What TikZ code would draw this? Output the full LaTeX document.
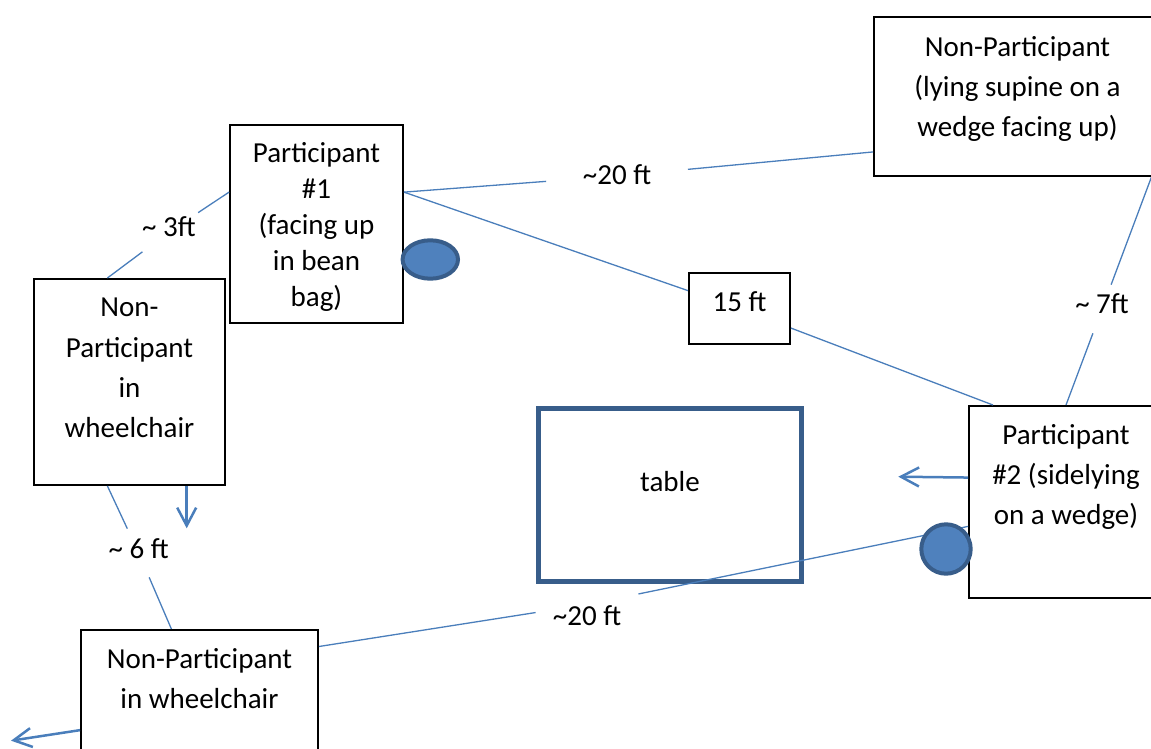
\documentclass[tikz,border=0pt]{standalone}
\usepackage{fontspec}
\setmainfont{Carlito}
\usetikzlibrary{shapes,shapes.geometric,arrows.meta}
\definecolor{linkblue}{HTML}{4A7EBB}
\definecolor{devfill}{HTML}{4F81BD}
\definecolor{devedge}{HTML}{385D8A}
\tikzset{
  box_n/.style = {draw=black, line width=0.04cm, inner sep=0pt, anchor=north, align=center, font=\fontsize{16.5}{23}\selectfont},
  box_t/.style = {box_n, draw=devedge, line width=0.09cm},
  dist/.style = {inner xsep=0.04cm, inner ysep=0.18cm, text height=0.4cm, text depth=0.2cm, font=\fontsize{16.5}{23}\selectfont},
  link/.style = {draw=linkblue, line width=0.026cm},
  move/.style = {draw=linkblue, line width=0.05cm, -{Straight Barb[length=0.36cm,width=0.38cm]}},
  dev/.style = {draw=devedge, fill=devfill, line width=0.08cm, inner sep=0pt}
}
\begin{document}
\begin{tikzpicture}[x=0.02cm, y=-0.02cm]
	\useasboundingbox (0,0) rectangle (1151,749);
	\clip (0,0) rectangle (1151,749);

	\node [box_n, minimum width=3.46cm, text height=3.64cm, text depth=0.32cm, font=\fontsize{16.5}{20.5}\selectfont] (part_a) at (316.5,124) {Participant\\\#1\\(facing up\\in bean\\bag)};
	\node [box_n, minimum width=3.82cm, text height=3.18cm, text depth=0.94cm] (non_w1) at (129.5,278) {Non-\\Participant\\in\\wheelchair};
	\node [box_n, minimum width=5.74cm, text height=2.4cm, text depth=0.78cm] (non_s) at (1017.5,16) {Non-Participant\\(lying supine on a\\wedge facing up)};
	\node [box_n, minimum width=3.88cm, text height=2.38cm, text depth=1.46cm] (part_b) at (1066,405) {Participant\\\#2 (sidelying\\on a wedge)};
	\node [box_n, minimum width=4.74cm, text height=1.57cm, text depth=1.85cm] (non_w2) at (199.5,629) {Non-Participant\\in wheelchair};
	\node [box_t, minimum width=5.26cm, text height=1.66cm, text depth=1.81cm] (tbl) at (670,406) {table};
	\node [box_n, minimum width=2.02cm, text height=0.78cm, text depth=0.64cm] (d_15) at (739.5,272) {15 ft};

	\node [dist, inner xsep=0.73cm, inner ysep=0pt, text height=0.5cm, text depth=0.14cm] (d_top) at (617,176) {\textasciitilde20 ft};
	\node [dist, inner xsep=0.34cm, inner ysep=0pt, text height=0.96cm, text depth=0.14cm] (d_bot) at (587,604.5) {\textasciitilde20 ft};
	\node [dist, inner ysep=0.09cm] (d_3) at (169,232) {\textasciitilde\ 3ft};
	\node [dist] (d_6) at (138.7,553) {\textasciitilde\ 6 ft};
	\node [dist] (d_7) at (1102,309) {\textasciitilde\ 7ft};

	\coordinate (mv_a) at (186.7,528.3);
	\coordinate (mv_b) at (898.3,476.7);
	\coordinate (mv_c) at (11,740.7);

	\draw [link] (part_a.20) -- (d_top) -- (non_s.201);
	\draw [link] (part_a.20) -- (d_15) -- (part_b.127);
	\draw [link] (non_s.329) -- (d_7) -- (part_b.90);
	\draw [link] (non_w1.102) -- (d_3) -- (part_a.160);
	\draw [link] (non_w1.258) -- (d_6) -- (non_w2.108);
	\draw [link] (non_w2.30) -- (d_bot) -- (part_b.194);

	\draw [move] (non_w1.south -| mv_a) -- (mv_a);
	\draw [move] (part_b.166) -- (mv_b);
	\draw [move] (non_w2.187) -- (mv_c);

	\node [dev, ellipse, minimum width=1.108cm, minimum height=0.768cm] (tab_a) at (430.3,259.5) {};
	\node [dev, circle, minimum size=0.988cm] (tab_b) at (946,549) {};
\end{tikzpicture}
\end{document}
